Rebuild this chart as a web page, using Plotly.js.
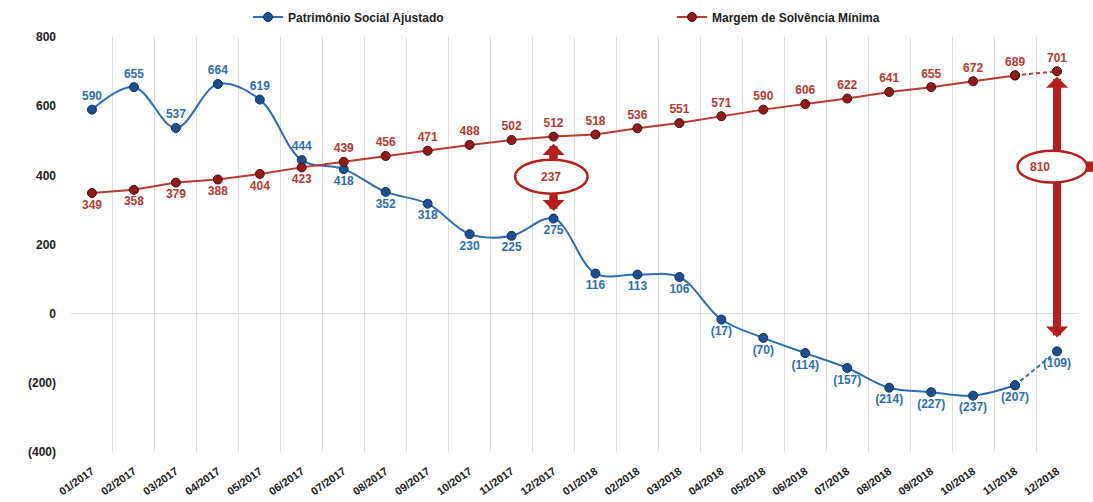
<!DOCTYPE html>
<html><head><meta charset="utf-8">
<script src="https://cdn.plot.ly/plotly-3.0.1.min.js"></script>
<style>html,body{margin:0;padding:0;background:#fff}#c{width:1093px;height:502px}</style>
</head><body><div id="c"></div>
<script>
const categories = ["01/2017","02/2017","03/2017","04/2017","05/2017","06/2017","07/2017","08/2017","09/2017","10/2017","11/2017","12/2017",
"01/2018","02/2018","03/2018","04/2018","05/2018","06/2018","07/2018","08/2018","09/2018","10/2018","11/2018","12/2018"];
const patrimonio = [590,655,537,664,619,444,418,352,318,230,225,275,116,113,106,-17,-70,-114,-157,-214,-227,-237,-207,-109];
const margem = [349,358,379,388,404,423,439,456,471,488,502,512,518,536,551,571,590,606,622,641,655,672,689,701];
const yTickVals = [800,600,400,200,0,-200,-400];
const yTickText = ["800","600","400","200","0","(200)","(400)"];
const gapLabels = ["237","810"];

const FONT = 'Arial, "Liberation Sans", sans-serif';
const BLUE = '#2E6EB5', BLUE_M = '#1B4F8F';
const RED = '#B83A32', RED_M = '#8E1A1A', ARROW = '#B5201E';
const fmt = v => v < 0 ? '(' + (-v) + ')' : String(v);
const n = categories.length;

const bluePos = patrimonio.map((v,i) => i < 6 ? 'top center' : 'bottom center');
const redPos = margem.map((v,i) => i < 6 ? 'bottom center' : 'top center');

function mk(color, line) { return {size: 9, color: color, line: {color: line, width: 1}}; }

const traces = [
  {x: categories.slice(0, n-1), y: patrimonio.slice(0, n-1), name: 'Patrimônio Social Ajustado', legend: 'legend',
   mode: 'lines+markers+text', line: {color: BLUE, width: 2, shape: 'spline'}, marker: mk(BLUE_M, '#0E3260'),
   text: patrimonio.slice(0, n-1).map(fmt), textposition: bluePos.slice(0, n-1),
   textfont: {family: FONT, size: 12, color: BLUE, weight: 'bold'}, cliponaxis: false, hoverinfo: 'skip'},
  {x: categories.slice(n-2), y: patrimonio.slice(n-2), showlegend: false,
   mode: 'lines+markers+text', line: {color: BLUE, width: 2, dash: '4px,3px', shape: 'spline'}, marker: mk(BLUE_M, '#0E3260'),
   text: ['', fmt(patrimonio[n-1])], textposition: ['bottom center', 'bottom center'],
   textfont: {family: FONT, size: 12, color: BLUE, weight: 'bold'}, cliponaxis: false, hoverinfo: 'skip'},
  {x: categories.slice(0, n-1), y: margem.slice(0, n-1), name: 'Margem de Solvência Mínima', legend: 'legend2',
   mode: 'lines+markers+text', line: {color: RED, width: 2}, marker: mk(RED_M, '#4A0B0B'),
   text: margem.slice(0, n-1).map(fmt), textposition: redPos.slice(0, n-1),
   textfont: {family: FONT, size: 12, color: RED, weight: 'bold'}, cliponaxis: false, hoverinfo: 'skip'},
  {x: categories.slice(n-2), y: margem.slice(n-2), showlegend: false,
   mode: 'lines+markers+text', line: {color: RED, width: 2, dash: '4px,3px'}, marker: mk(RED_M, '#4A0B0B'),
   text: ['', fmt(margem[n-1])], textposition: ['top center', 'top center'],
   textfont: {family: FONT, size: 12, color: RED, weight: 'bold'}, cliponaxis: false, hoverinfo: 'skip'}
];

function head(xi, y, ay) {
  return {x: categories[xi], y: y, xref: 'x', yref: 'y', ax: 0, ay: ay, text: '', showarrow: true,
    arrowhead: 1, arrowsize: 0.46, arrowwidth: 8, arrowcolor: ARROW};
}
const i1 = 11, i2 = 23;
const annotations = [
  head(i1, 491, 16), head(i1, 297, -16),
  head(i2, 685, 16), head(i2, -69, -16),
  {x: 0.477, y: 396, xref: 'paper', yref: 'y', text: gapLabels[0], showarrow: false,
   font: {family: FONT, size: 12, color: RED, weight: 'bold'}},
  {x: 0.9745, y: 425, xref: 'paper', yref: 'y', text: gapLabels[1], showarrow: false,
   font: {family: FONT, size: 12, color: RED, weight: 'bold'}}
];
const shapes = [
  {type: 'line', xref: 'x', yref: 'y', x0: i1, x1: i1, y0: 470, y1: 318, line: {color: ARROW, width: 8}},
  {type: 'line', xref: 'x', yref: 'y', x0: i2, x1: i2, y0: 660, y1: -45, line: {color: ARROW, width: 8}},
  {type: 'circle', xref: 'paper', yref: 'y', x0: 0.441, x1: 0.513, y0: 347, y1: 445,
   fillcolor: '#ffffff', line: {color: ARROW, width: 2.5}},
  {type: 'rect', xref: 'paper', yref: 'y', x0: 1.006, x1: 1.016, y0: 410, y1: 440, fillcolor: ARROW, line: {width: 0}},
  {type: 'circle', xref: 'paper', yref: 'y', x0: 0.940, x1: 1.009, y0: 379, y1: 471,
   fillcolor: '#ffffff', line: {color: ARROW, width: 2.5}}
];

const legFont = {family: FONT, size: 12, color: '#222', weight: 'bold'};
const layout = {
  width: 1093, height: 502,
  margin: {l: 71, r: 15, t: 37, b: 50, autoexpand: false},
  paper_bgcolor: '#fff', plot_bgcolor: '#fff',
  font: {family: FONT, size: 12, color: '#222'},
  showlegend: true,
  legend: {orientation: 'h', xref: 'container', yref: 'container', x: 248/1093, xanchor: 'left', y: 1 - 17/502, yanchor: 'middle',
    font: legFont, bgcolor: 'rgba(0,0,0,0)'},
  legend2: {orientation: 'h', xref: 'container', yref: 'container', x: 672/1093, xanchor: 'left', y: 1 - 17/502, yanchor: 'middle',
    font: legFont, bgcolor: 'rgba(0,0,0,0)'},
  xaxis: {type: 'category', tickson: 'boundaries', showgrid: true, gridcolor: '#dedede', gridwidth: 1,
    showline: false, ticks: '', tickangle: -35, ticklabelstandoff: 10,
    tickfont: {family: FONT, size: 11, color: '#222', weight: 'bold'}, range: [-0.5, n - 0.5], fixedrange: true},
  yaxis: {range: [-400, 800], tickvals: yTickVals, ticktext: yTickText, showgrid: false,
    zeroline: true, zerolinecolor: '#dedede', zerolinewidth: 1, showline: false, ticks: '',
    ticklabelstandoff: 14,
    tickfont: {family: FONT, size: 12, color: '#222', weight: 'bold'}, fixedrange: true},
  shapes: shapes, annotations: annotations
};
Plotly.newPlot('c', traces, layout, {displayModeBar: false, staticPlot: true});
</script></body></html>
